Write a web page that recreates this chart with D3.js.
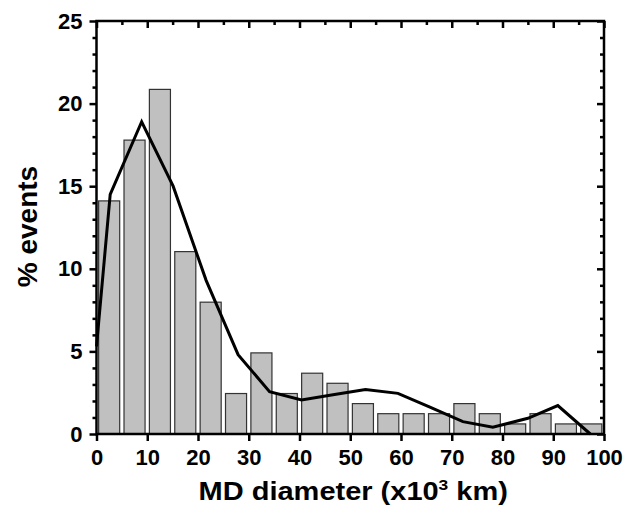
<!DOCTYPE html>
<html>
<head>
<meta charset="utf-8">
<script src="https://cdn.jsdelivr.net/npm/d3@7"></script>
<style>
    body { margin: 0; background: #fff; }
    text { font-family: "Liberation Sans", Arial, sans-serif; font-weight: bold; fill: #000; }
</style>
</head>
<body>
<div id="chart_md"></div>
<script>
// histogram bins (left edge, x10^3 km) and % of events
var binStart = [0, 5, 10, 15, 20, 25, 30, 35, 40, 45, 50, 55, 60, 65, 70, 75, 80, 85, 90, 95];
var binPct = [14.11, 17.79, 20.86, 11.04, 7.98, 2.45, 4.91, 2.45, 3.68, 3.07,
              1.84, 1.23, 1.23, 1.23, 1.84, 1.23, 0.61, 1.23, 0.61, 0.61];

// smoothed curve drawn over the bars
var curveX = [0, 2.7, 8.9, 15.1, 21.6, 27.9, 34.1, 40.4, 46.6, 53.0, 59.4, 65.7, 72.2, 78.1, 85.0, 90.9, 97.3];
var curveY = [5.3, 14.5, 18.9, 15.0, 9.3, 4.8, 2.56, 2.06, 2.37, 2.7, 2.46, 1.62, 0.75, 0.41, 0.95, 1.72, 0.0];

var xTicks = [0, 10, 20, 30, 40, 50, 60, 70, 80, 90, 100];
var yTicks = [0, 5, 10, 15, 20, 25];

function drawChart() {
    var w = 626, h = 514;
    var margin = { top: 21, right: 22, bottom: 80, left: 96.5 };
    var width = w - margin.left - margin.right;
    var height = h - margin.top - margin.bottom;

    var svg = d3.select("#chart_md")
        .append("svg")
        .attr("width", w)
        .attr("height", h)
        .append("g")
        .attr("transform", `translate(${margin.left},${margin.top})`);

    var xScale = d3.scaleLinear().domain([0, 100]).range([0, width]);
    var yScale = d3.scaleLinear().domain([0, 25]).range([height, 0]);

    // Bars
    var bins = binStart.map((s, i) => ({ start: s, value: binPct[i] }));
    svg.selectAll(".bar")
        .data(bins)
        .enter()
        .append("rect")
        .attr("x", d => xScale(d.start + 0.42))
        .attr("y", d => yScale(d.value))
        .attr("width", xScale(4.15) - xScale(0))
        .attr("height", d => yScale(0) - yScale(d.value))
        .attr("fill", "#c0c0c0")
        .attr("stroke", "#333")
        .attr("stroke-width", 1.2);

    // Curve
    var pts = curveX.map((x, i) => ({ x: x, y: curveY[i] }));
    var line = d3.line()
        .x(d => xScale(d.x))
        .y(d => yScale(d.y));

    svg.append("path")
        .datum(pts)
        .attr("fill", "none")
        .attr("stroke", "#000")
        .attr("stroke-width", 3)
        .attr("stroke-linejoin", "miter")
        .attr("d", line);

    // Axes - bottom and left with outward ticks
    svg.append("g")
        .attr("transform", `translate(0,${height})`)
        .call(d3.axisBottom(xScale).tickValues(xTicks).tickSize(7).tickPadding(8));

    svg.append("g")
        .call(d3.axisLeft(yScale).tickValues(yTicks).tickSize(7).tickPadding(7));

    // minor ticks on left
    var minorY = d3.range(0, 26, 1).filter(v => v % 5 != 0);
    svg.append("g")
        .call(d3.axisLeft(yScale).tickValues(minorY).tickSize(4).tickFormat(""));

    // top and right mirror ticks, pointing inward
    svg.append("g")
        .call(d3.axisBottom(xScale).tickValues(xTicks).tickSize(7).tickFormat(""));
    svg.append("g")
        .call(d3.axisBottom(xScale).tickValues(d3.range(5, 100, 10)).tickSize(4).tickFormat(""));
    svg.append("g")
        .attr("transform", `translate(${width},0)`)
        .call(d3.axisLeft(yScale).tickValues(yTicks).tickSize(7).tickFormat(""));
    svg.append("g")
        .attr("transform", `translate(${width},0)`)
        .call(d3.axisLeft(yScale).tickValues(minorY).tickSize(4).tickFormat(""));

    svg.selectAll(".domain").remove();
    svg.selectAll(".tick line").attr("stroke", "#000").attr("stroke-width", 2.5);
    svg.selectAll(".tick text")
        .style("font-family", "'Liberation Sans', Arial, sans-serif")
        .style("font-weight", "bold")
        .style("font-size", "22px")
        .attr("fill", "#000");

    // frame
    svg.append("rect")
        .attr("x", 0)
        .attr("y", 0)
        .attr("width", width)
        .attr("height", height)
        .attr("fill", "none")
        .attr("stroke", "#000")
        .attr("stroke-width", 2.5);

    // Axis titles (the original font is a bit wider, hence the x stretch)
    var xt = svg.append("text")
        .attr("transform", `translate(${width / 2 + 3},${height + 66}) scale(1.16,1)`)
        .attr("text-anchor", "middle")
        .style("font-size", "25px");
    xt.append("tspan").text("MD diameter (x10");
    xt.append("tspan").attr("dy", -10).style("font-size", "15px").text("3");
    xt.append("tspan").attr("dy", 10).text(" km)");

    svg.append("text")
        .attr("transform", `translate(${-margin.left + 37},${height / 2 - 1}) rotate(-90)`)
        .attr("text-anchor", "middle")
        .style("font-size", "28px")
        .text("% events");
}

window.onload = drawChart;
</script>
</body>
</html>
